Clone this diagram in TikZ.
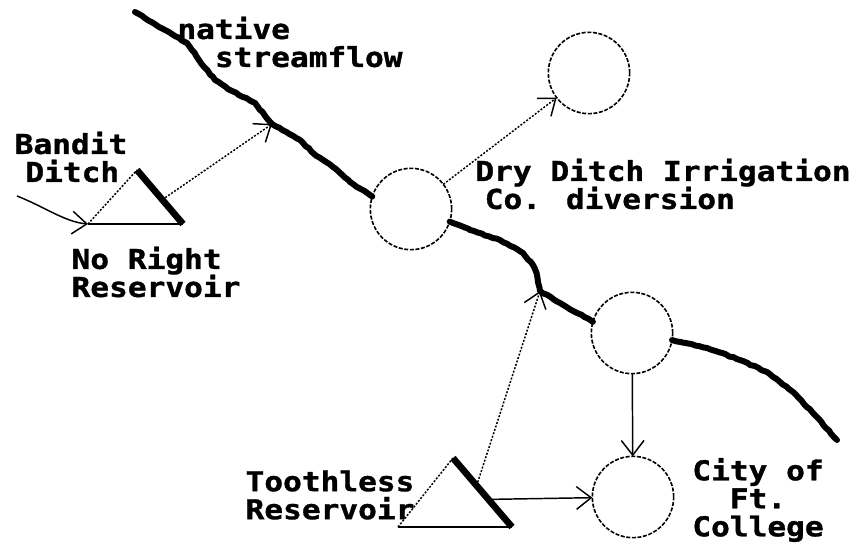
\documentclass[tikz,border=0pt]{standalone}
\usepackage{fontspec}
\newfontfamily\pixfont[FakeStretch=1.14,FakeBold=1.2]{DejaVu Sans Mono}
\usetikzlibrary{arrows.meta,calc,decorations.pathmorphing}

\tikzset{every picture/.style={line width=0.75pt}}
\tikzset{
  site/.style={circle,draw,line width=1.2pt,dash pattern=on 3pt off 1.2pt,minimum size=61pt,inner sep=0pt,outer sep=0pt},
  stream/.style={line width=4.5pt,line join=round,line cap=round,decorate,decoration={random steps,segment length=3pt,amplitude=0.4pt}},
  barb/.style={-{Straight Barb[length=11pt,width=17pt]}},
  dotline/.style={line width=1.1pt,dash pattern=on 1.5pt off 1.2pt},
  pipe/.style={barb,line width=1.1pt},
  seep/.style={barb,dotline},
  lbl/.style={font=\pixfont\bfseries\fontsize{20.5pt}{21pt}\selectfont,inner sep=0pt,align=left}
}

\begin{document}
\begin{tikzpicture}[x=0.75pt,y=0.75pt,yscale=-1,xscale=1]
\useasboundingbox (0,0) rectangle (856,546);
\pgfmathsetseed{3}

%Shape: Circle
\node (dryditch) [site] at (411,209) {};
%Shape: Circle
\node (ddicuse) [site] at (589,73) {};
%Shape: Circle
\node (junction) [site] at (632,333) {};
%Shape: Circle
\node (city) [site] at (633,497) {};

%Shape: Triangle
\coordinate (nr-top) at (137,170);
\coordinate (nr-bl) at (88,224);
\coordinate (nr-br) at (183,224);
\draw [dotline] (nr-bl) -- (nr-top);
\draw [line width=2pt] (nr-bl) -- (nr-br);
\draw [line width=5pt] (nr-top) -- (nr-br);
%Shape: Triangle
\coordinate (th-top) at (453,458);
\coordinate (th-bl) at (398,527);
\coordinate (th-br) at (512,527);
\draw [dotline] (th-bl) -- (th-top);
\draw [line width=2pt] (th-bl) -- (th-br);
\draw [line width=5pt] (th-top) -- (th-br);

%Stream
\coordinate (s-bandit) at (272,124);
\coordinate (s-tooth) at (540,291);
\draw [stream] (135,12) -- (165,30) -- (187,43) -- (205,68) -- (215,80) -- (232,91) -- (255,103) -- (s-bandit) -- (300,140) -- (313,153) -- (333,167) -- (350,182) -- (dryditch.162);
\draw [stream] (dryditch.-18) -- (470,230) -- (500,240) -- (523,253) -- (533,265) -- (537,275) -- (s-tooth) -- (560,303) -- (junction.164);
\draw [stream] (junction.-10) -- (707,348) -- (740,360) -- (767,372) -- (793,392) -- (813,413) -- (837,440);

%Curve Lines
\coordinate (bd-src) at (17,196);
\draw [pipe] (bd-src) .. controls (45,207) and (65,222) .. (nr-bl);

%Straight Lines
\coordinate (nr-out) at ($(nr-top)!0.55!(nr-br)$);
\draw [seep] (nr-out) -- (s-bandit);
\draw [seep] (dryditch) -- (ddicuse);
\coordinate (th-out1) at ($(th-top)!0.4!(th-br)$);
\draw [seep] (th-out1) -- (s-tooth);
\coordinate (th-out2) at ($(th-top)!0.6!(th-br)$);
\draw [pipe] (th-out2) -- (city);
\draw [pipe] (junction) -- (city);

% Text Node
\node (lbl-stream) [lbl] at (290,42) {native\\\phantom{na}streamflow};
% Text Node
\node (lbl-ddic) [lbl] at (663,184) {Dry Ditch Irrigation\\\hspace*{7pt}Co. diversion};
% Text Node
\node (lbl-bandit) [lbl] at (71,157) {Bandit\\\hspace*{8pt}Ditch};
% Text Node
\node (lbl-noright) [lbl] at (156,272) {No Right\\Reservoir};
% Text Node
\node (lbl-tooth) [lbl] at (330,495) {Toothless\\Reservoir};
% Text Node
\node (lbl-city) [lbl,align=center] at (758,500) {City of\\Ft.\\College};

\end{tikzpicture}
\end{document}
